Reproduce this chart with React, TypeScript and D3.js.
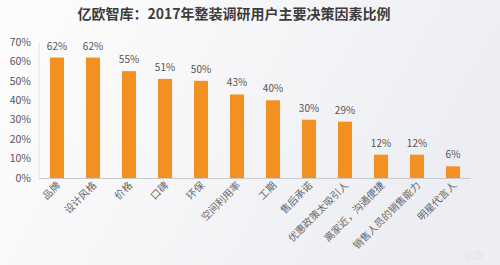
import React from "react";
import * as d3 from "d3";

const title = "亿欧智库：2017年整装调研用户主要决策因素比例";
const categories = [
  "品牌",
  "设计风格",
  "价格",
  "口碑",
  "环保",
  "空间利用率",
  "工期",
  "售后承诺",
  "优惠政策太吸引人",
  "离家近，沟通便捷",
  "销售人员的销售能力",
  "明星代言人",
];
const values = [62, 62, 55, 51, 50, 43, 40, 30, 29, 12, 12, 6];
const yTicks = [0, 10, 20, 30, 40, 50, 60, 70];

const W = 500;
const H = 265;
const FONT = "'Noto Sans CJK SC', 'Noto Sans', sans-serif";

export default function App() {
  const x = d3
    .scaleBand<string>()
    .domain(categories)
    .range([39, 471])
    .paddingInner(0.61)
    .paddingOuter(0.305);
  const y = d3.scaleLinear().domain([0, 70]).range([178, 42]);
  const bw = x.bandwidth();

  return (
    <div style={{ position: "fixed", left: 0, top: 0, width: W, height: H }}>
      <svg width={W} height={H} style={{ display: "block" }}>
        <defs>
          <linearGradient id="bg" x1="0" y1="0" x2="1" y2="0.3">
            <stop offset="0" stopColor="#fdfdfd" />
            <stop offset="0.5" stopColor="#f6f6f8" />
            <stop offset="1" stopColor="#eceef3" />
          </linearGradient>
        </defs>
        <rect x={0} y={0} width={W} height={H} fill="url(#bg)" />
        <text
          x={234}
          y={19}
          textAnchor="middle"
          fontFamily={FONT}
          fontWeight="bold"
          fontSize={14}
          fill="#3c3c3c"
        >
          {title}
        </text>
        {/* faint y axis line */}
        <line x1={39} x2={39} y1={42} y2={178} stroke="#e2e2e2" strokeWidth={1} />
        {yTicks.map((t) => (
          <text
            key={t}
            x={31}
            y={y(t)}
            dy="0.35em"
            textAnchor="end"
            fontFamily={FONT}
            fontSize={10.5}
            fill="#555"
          >
            {t}%
          </text>
        ))}
        {categories.map((c, i) => {
          const bx = x(c)!;
          const cx = bx + bw / 2;
          return (
            <g key={c}>
              <rect
                x={bx}
                y={y(values[i])}
                width={bw}
                height={y(0) - y(values[i])}
                fill="#f39022"
              />
              <text
                x={cx}
                y={y(values[i]) - 8}
                textAnchor="middle"
                fontFamily={FONT}
                fontSize={10}
                fill="#555"
              >
                {values[i]}%
              </text>
              <text
                transform={`translate(${cx + 4},${186}) rotate(-45)`}
                textAnchor="end"
                fontFamily={FONT}
                fontSize={10}
                fill="#666"
              >
                {c}
              </text>
            </g>
          );
        })}
        <line x1={39} x2={471} y1={178.5} y2={178.5} stroke="#c9c9c9" strokeWidth={1.2} />
        {/* faint watermark */}
        <text
          x={474}
          y={259}
          textAnchor="middle"
          fontFamily={FONT}
          fontSize={9}
          fill="#e3e3e6"
        >
          亿欧
        </text>
      </svg>
    </div>
  );
}
